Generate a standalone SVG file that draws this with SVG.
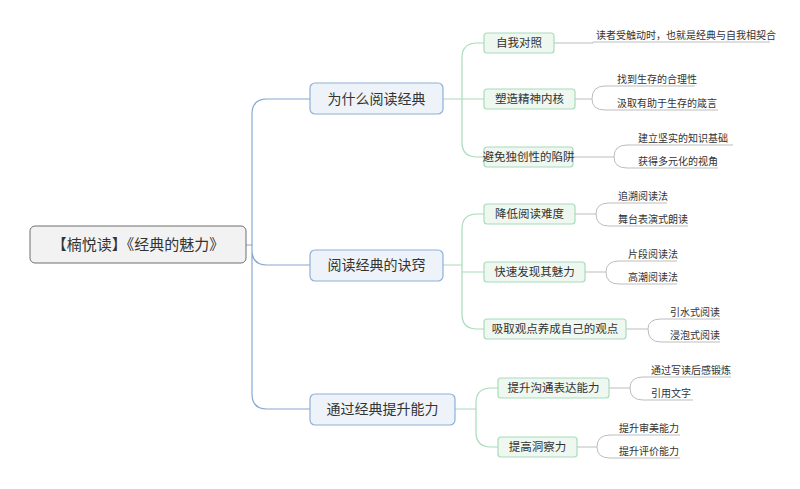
<svg xmlns="http://www.w3.org/2000/svg" width="800" height="489" viewBox="0 0 800 489">
<style>
text{font-family:"Noto Sans CJK SC","Liberation Sans",sans-serif;fill:#333}
.root rect{fill:#f2f2f2;stroke:#6f6f6f;stroke-width:1}
.l1 rect{fill:#eef3fa;stroke:#8eb0d8;stroke-width:1.2}
.l2 rect{fill:#eef7f0;stroke:#a8dcbb;stroke-width:1.2}
.l1 text{font-size:14px;text-anchor:middle}
.l2 text{font-size:11.5px;text-anchor:middle}
.lf text{font-size:10px}
.blue{fill:none;stroke:#86a8d2;stroke-width:1.2}
.green{fill:none;stroke:#a8dcbb;stroke-width:1.2}
.grey{fill:none;stroke:#bdbdbd;stroke-width:1}
</style>
<rect width="800" height="489" fill="#fff"/>
<g id="connectors">
<path class="blue" d="M246 245H252M252 245V114Q252 99 267 99H310M252 245V250Q252 265 267 265H310M252 245V394Q252 409 267 409H310"/>
<path class="green" d="M443 99H462M462 99V58Q462 43 477 43H484M462 99H484M462 99V142Q462 157 477 157H484"/>
<path class="green" d="M443 265H462M462 265V229Q462 214 477 214H484M462 265V272H484M462 265V314Q462 329 477 329H484"/>
<path class="green" d="M455 409H476M476 409V403Q476 388 491 388H498M476 409V432Q476 447 491 447H498"/>
<path class="grey" d="M554 43H593V42H770"/>
<path class="grey" d="M575 99H592M592 99Q592 86 605 86H695M592 99Q592 110 605 110H718"/>
<path class="grey" d="M573 157H614M614 157Q614 145 627 145H733M614 157Q614 168 627 168H718"/>
<path class="grey" d="M575 214H596M596 214Q596 203 609 203H667M596 214Q596 226 609 226H688"/>
<path class="grey" d="M585 272H606M606 272Q606 261 619 261H677M606 272Q606 284 619 284H677"/>
<path class="grey" d="M626 329H648M648 329Q648 319 661 319H720M648 329Q648 342 661 342H720"/>
<path class="grey" d="M609 388H630M630 388Q630 377 643 377H731M630 388Q630 400 643 400H693"/>
<path class="grey" d="M577 447H597M597 447Q597 435 610 435H680M597 447Q597 458 610 458H680"/>
</g>
<g id="root" class="root"><rect x="30" y="226" width="216" height="37" rx="5"/><text x="138" y="250" font-size="15" text-anchor="middle">【楠悦读】《经典的魅力》</text></g>
<g id="n1" class="l1"><rect x="310" y="83" width="133" height="31" rx="5"/><text x="376.5" y="104">为什么阅读经典</text></g>
<g id="n2" class="l1"><rect x="310" y="250" width="133" height="31" rx="5"/><text x="376.5" y="270">阅读经典的诀窍</text></g>
<g id="n3" class="l1"><rect x="310" y="394" width="145" height="31" rx="5"/><text x="382.5" y="414">通过经典提升能力</text></g>
<g id="a1" class="l2"><rect x="484" y="33" width="70" height="20" rx="3"/><text x="519" y="47">自我对照</text></g>
<g id="a2" class="l2"><rect x="484" y="89" width="91" height="20" rx="3"/><text x="529.5" y="103">塑造精神内核</text></g>
<g id="a3" class="l2"><rect x="484" y="147" width="89" height="20" rx="3"/><text x="528.5" y="161">避免独创性的陷阱</text></g>
<g id="b1" class="l2"><rect x="484" y="204" width="91" height="20" rx="3"/><text x="529.5" y="218">降低阅读难度</text></g>
<g id="b2" class="l2"><rect x="484" y="262" width="101" height="20" rx="3"/><text x="534.5" y="276">快速发现其魅力</text></g>
<g id="b3" class="l2"><rect x="484" y="319" width="142" height="20" rx="3"/><text x="555" y="333">吸取观点养成自己的观点</text></g>
<g id="c1" class="l2"><rect x="498" y="378" width="111" height="20" rx="3"/><text x="553.5" y="392">提升沟通表达能力</text></g>
<g id="c2" class="l2"><rect x="498" y="437" width="79" height="20" rx="3"/><text x="537.5" y="451">提高洞察力</text></g>
<g id="leaves" class="lf">
<text x="596" y="39">读者受触动时，也就是经典与自我相契合</text>
<text x="617" y="83">找到生存的合理性</text>
<text x="617" y="107">汲取有助于生存的箴言</text>
<text x="638" y="142">建立坚实的知识基础</text>
<text x="638" y="165">获得多元化的视角</text>
<text x="618" y="200">追溯阅读法</text>
<text x="618" y="223">舞台表演式朗读</text>
<text x="628" y="258">片段阅读法</text>
<text x="628" y="281">高潮阅读法</text>
<text x="670" y="316">引水式阅读</text>
<text x="670" y="339">浸泡式阅读</text>
<text x="651" y="374">通过写读后感锻炼</text>
<text x="651" y="397">引用文字</text>
<text x="619" y="432">提升审美能力</text>
<text x="619" y="455">提升评价能力</text>
</g>
</svg>
